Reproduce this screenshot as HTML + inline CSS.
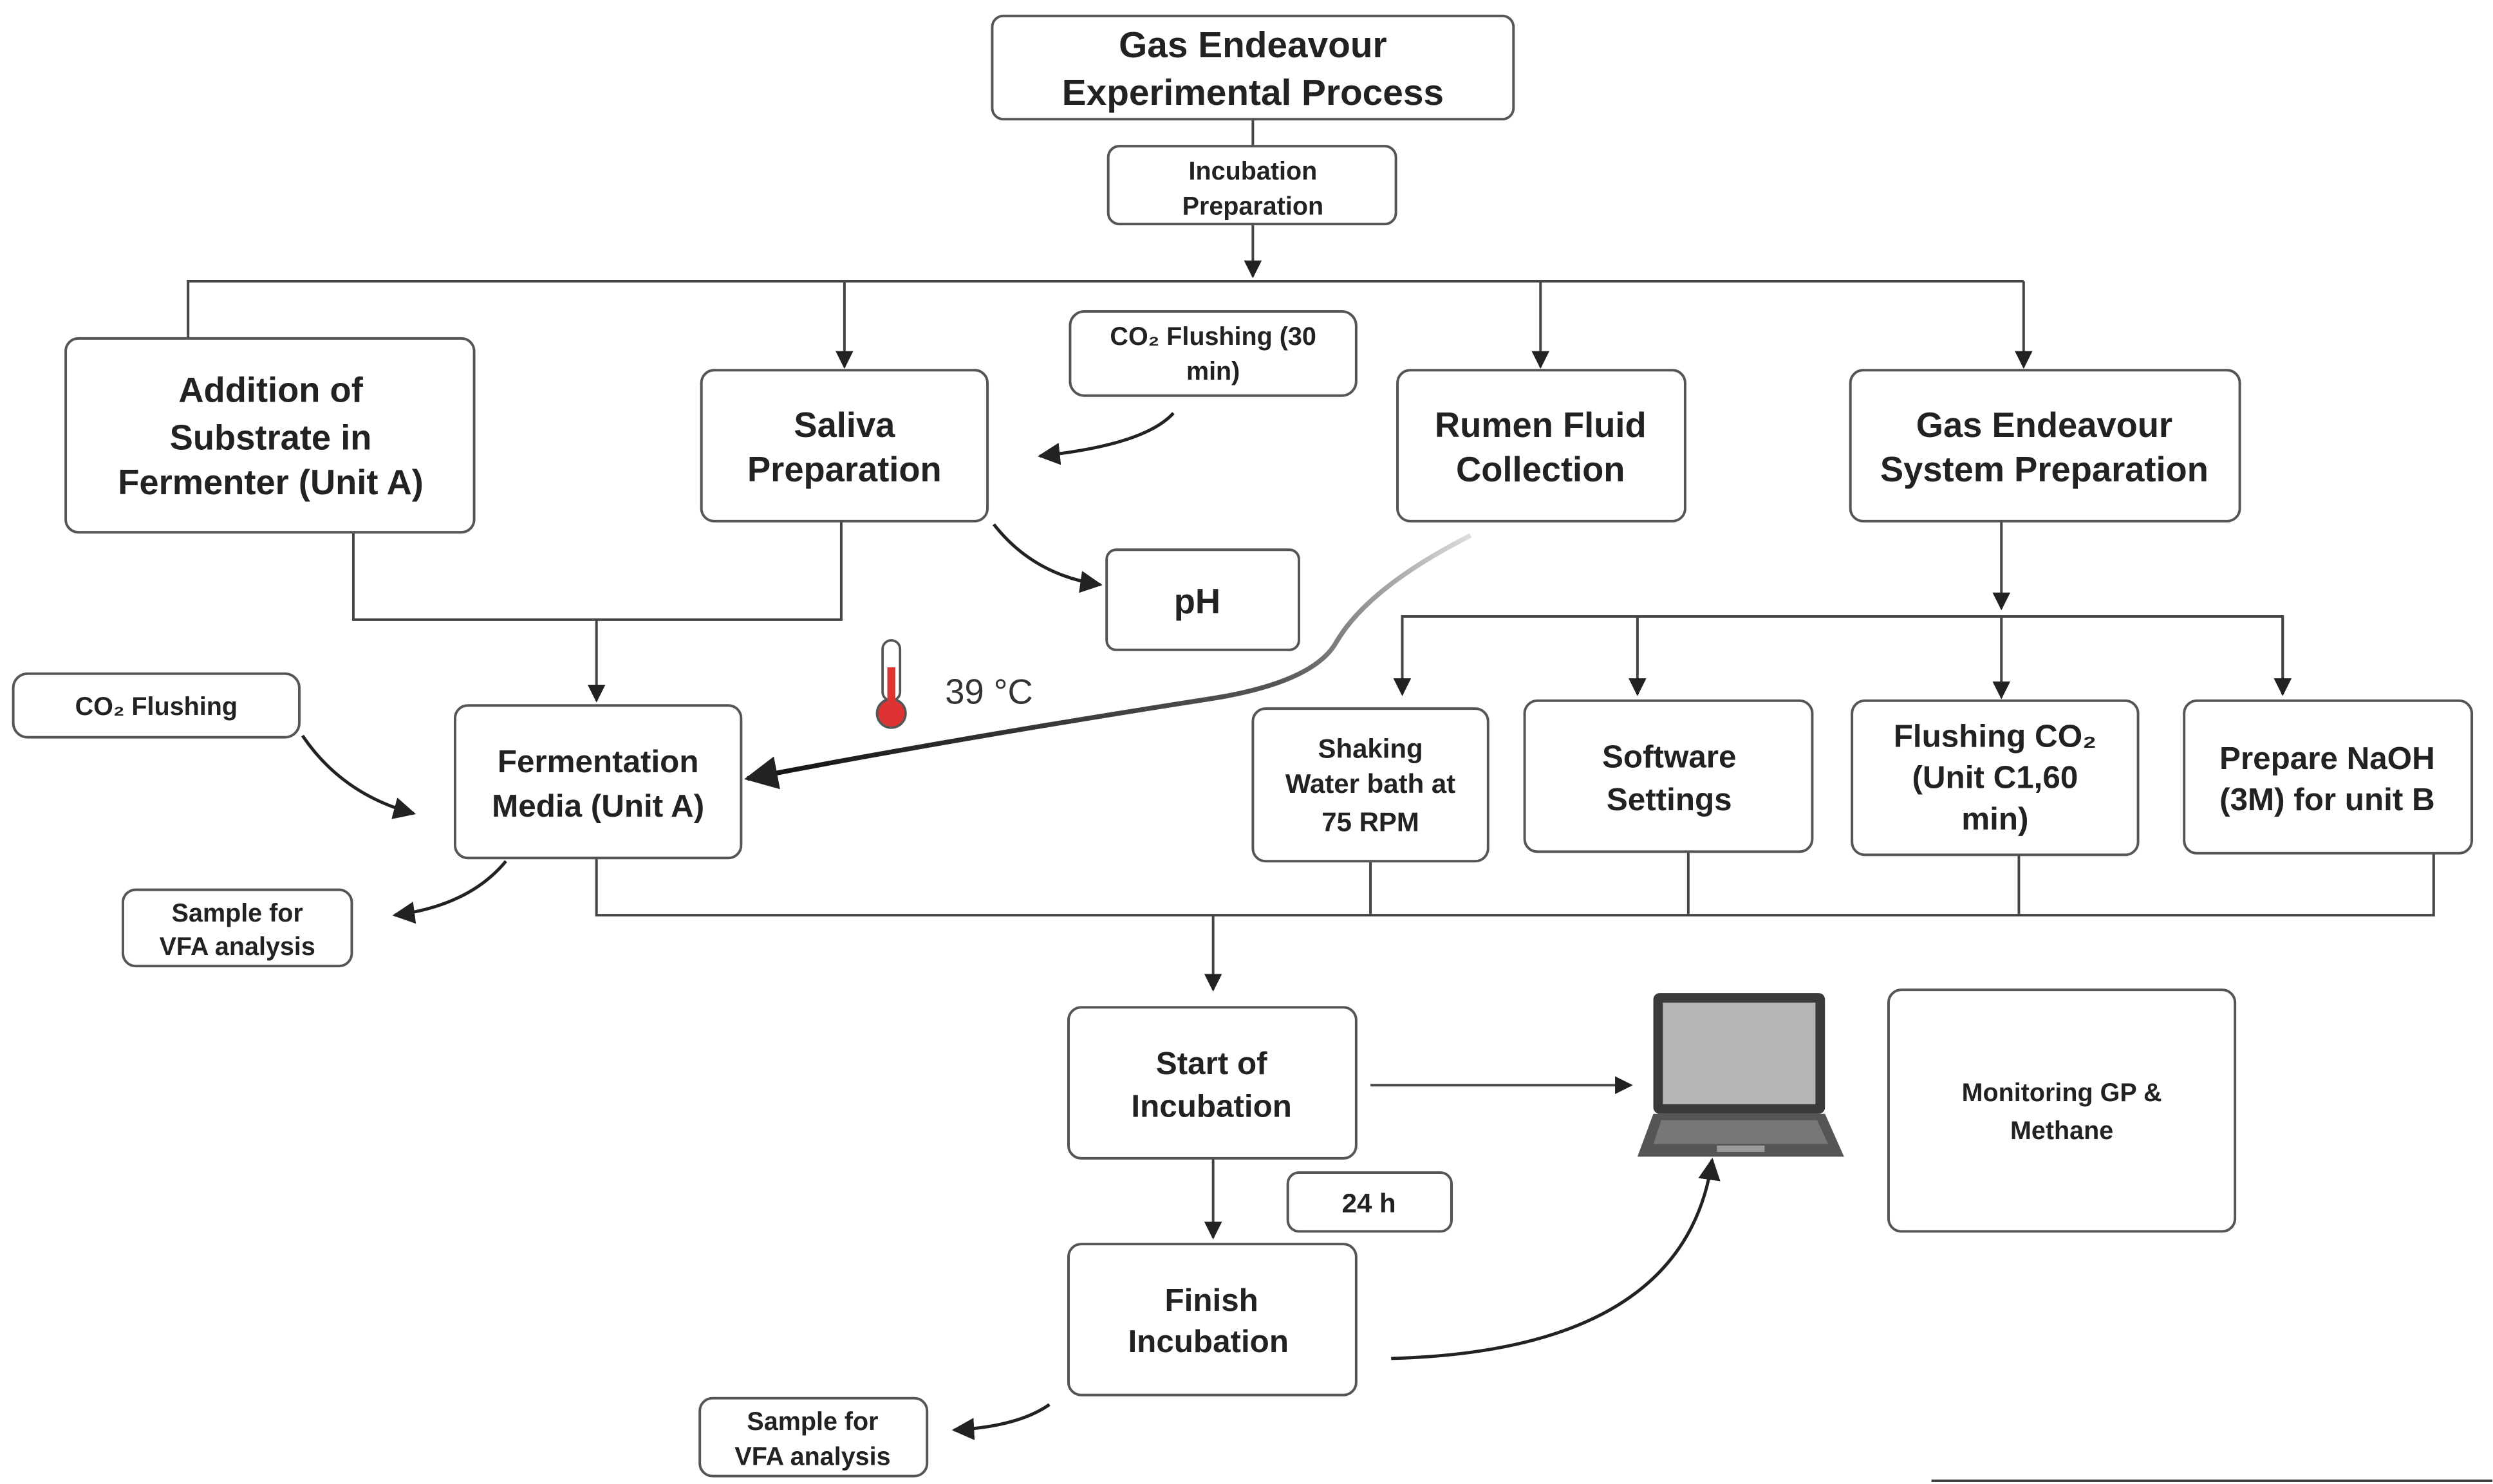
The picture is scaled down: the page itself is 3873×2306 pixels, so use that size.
<!DOCTYPE html>
<html><head><meta charset="utf-8"><style>
html,body{margin:0;padding:0;background:#fff;}
svg{display:block;}
text{font-family:"Liberation Sans",sans-serif;font-weight:bold;fill:#222;text-anchor:middle;}
.b{fill:#fff;stroke:#555;stroke-width:1.6;}
.l{fill:none;stroke:#444;stroke-width:1.6;}
.c{fill:none;stroke:#222;stroke-width:2;}
.s{font-weight:600;}
</style></head><body>
<svg width="3873" height="2306" viewBox="0 0 1568 934" xmlns="http://www.w3.org/2000/svg">
<defs>
<marker id="a" viewBox="0 0 10 10" refX="9" refY="5" markerWidth="7" markerHeight="7" orient="auto"><path d="M0,0L10,5L0,10z" fill="#222"/></marker>
<linearGradient id="g" x1="925" y1="337" x2="468" y2="490" gradientUnits="userSpaceOnUse"><stop offset="0" stop-color="#ddd"/><stop offset="0.3" stop-color="#555"/><stop offset="1" stop-color="#111"/></linearGradient>
</defs>
<path class="l" d="M788,75V92"/>
<path class="l" d="M788,141V174" marker-end="url(#a)"/>
<path class="l" d="M118,213V177H1273"/>
<path class="l" d="M531,177V231" marker-end="url(#a)"/>
<path class="l" d="M969,177V231" marker-end="url(#a)"/>
<path class="l" d="M1273,177V231" marker-end="url(#a)"/>
<path class="l" d="M222,335V390H529V328"/>
<path class="l" d="M375,390V441" marker-end="url(#a)"/>
<path class="l" d="M1259,328V383" marker-end="url(#a)"/>
<path class="l" d="M882,437V388H1436V437"/>
<path class="l" d="M882,388V437" marker-end="url(#a)"/>
<path class="l" d="M1030,388V437" marker-end="url(#a)"/>
<path class="l" d="M1259,388V439" marker-end="url(#a)"/>
<path class="l" d="M1436,388V437" marker-end="url(#a)"/>
<path class="l" d="M375,540V576H1531V537M862,542V576M1062,536V576M1270,538V576"/>
<path class="l" d="M763,576V623" marker-end="url(#a)"/>
<path class="l" d="M862,683H1026" marker-end="url(#a)"/>
<path class="l" d="M763,729V779" marker-end="url(#a)"/>
<path class="l" d="M1215,932H1568"/>
<path class="c" d="M738,260Q720,280 654,287" marker-end="url(#a)"/>
<path class="c" d="M625,330Q650,362 692,368" marker-end="url(#a)" stroke-width="1.5"/>
<path class="c" d="M190,463Q215,500 260,512" marker-end="url(#a)" stroke-width="1.5"/>
<path class="c" d="M318,542Q295,570 248,576" marker-end="url(#a)" stroke-width="1.5"/>
<path class="c" d="M660,884Q640,898 600,900" marker-end="url(#a)" stroke-width="1.5"/>
<path class="c" d="M875,855Q1060,850 1077,730" marker-end="url(#a)"/>
<path d="M925,337Q860,370 840,405Q825,430 760,440Q600,465 470,490" fill="none" stroke="url(#g)" stroke-width="3" marker-end="url(#a)"/>
<rect class="b" x="624" y="10" width="328" height="65" rx="7"/>
<text x="788" y="36" font-size="23">Gas Endeavour</text><text x="788" y="66" font-size="23">Experimental Process</text>
<rect class="b" x="697" y="92" width="181" height="49" rx="7"/>
<text class="s" x="788" y="113" font-size="16">Incubation</text><text class="s" x="788" y="135" font-size="16">Preparation</text>
<rect class="b" x="41" y="213" width="257" height="122" rx="8"/>
<text x="170" y="253" font-size="22">Addition of</text><text x="170" y="283" font-size="22">Substrate in</text><text x="170" y="311" font-size="22">Fermenter (Unit A)</text>
<rect class="b" x="441" y="233" width="180" height="95" rx="8"/>
<text x="531" y="275" font-size="22">Saliva</text><text x="531" y="303" font-size="22">Preparation</text>
<rect class="b" x="673" y="196" width="180" height="53" rx="9"/>
<text class="s" x="763" y="217" font-size="16">CO₂ Flushing (30</text><text class="s" x="763" y="239" font-size="16">min)</text>
<rect class="b" x="879" y="233" width="181" height="95" rx="8"/>
<text x="969" y="275" font-size="22">Rumen Fluid</text><text x="969" y="303" font-size="22">Collection</text>
<rect class="b" x="1164" y="233" width="245" height="95" rx="8"/>
<text x="1286" y="275" font-size="22">Gas Endeavour</text><text x="1286" y="303" font-size="22">System Preparation</text>
<rect class="b" x="696" y="346" width="121" height="63" rx="6"/>
<text x="753" y="386" font-size="22">pH</text>
<rect class="b" x="8" y="424" width="180" height="40" rx="9"/>
<text class="s" x="98" y="450" font-size="16">CO₂ Flushing</text>
<rect class="b" x="286" y="444" width="180" height="96" rx="8"/>
<text x="376" y="486" font-size="20">Fermentation</text><text x="376" y="514" font-size="20">Media (Unit A)</text>
<rect class="b" x="788" y="446" width="148" height="96" rx="8"/>
<text x="862" y="477" font-size="17">Shaking</text><text x="862" y="499" font-size="17">Water bath at</text><text x="862" y="523" font-size="17">75 RPM</text>
<rect class="b" x="959" y="441" width="181" height="95" rx="8"/>
<text x="1050" y="483" font-size="20">Software</text><text x="1050" y="510" font-size="20">Settings</text>
<rect class="b" x="1165" y="441" width="180" height="97" rx="8"/>
<text x="1255" y="470" font-size="20">Flushing CO₂</text><text x="1255" y="496" font-size="20">(Unit C1,60</text><text x="1255" y="522" font-size="20">min)</text>
<rect class="b" x="1374" y="441" width="181" height="96" rx="8"/>
<text x="1464" y="484" font-size="20">Prepare NaOH</text><text x="1464" y="510" font-size="20">(3M) for unit B</text>
<rect class="b" x="77" y="560" width="144" height="48" rx="8"/>
<text class="s" x="149" y="580" font-size="16">Sample for</text><text class="s" x="149" y="601" font-size="16">VFA analysis</text>
<rect class="b" x="672" y="634" width="181" height="95" rx="8"/>
<text x="762" y="676" font-size="20">Start of</text><text x="762" y="703" font-size="20">Incubation</text>
<rect class="b" x="1188" y="623" width="218" height="152" rx="8"/>
<text class="s" x="1297" y="693" font-size="16">Monitoring GP &amp;</text><text class="s" x="1297" y="717" font-size="16">Methane</text>
<rect class="b" x="810" y="738" width="103" height="37" rx="7"/>
<text class="s" x="861" y="763" font-size="17">24 h</text>
<rect class="b" x="672" y="783" width="181" height="95" rx="8"/>
<text x="762" y="825" font-size="20">Finish</text><text x="760" y="851" font-size="20">Incubation</text>
<rect class="b" x="440" y="880" width="143" height="49" rx="8"/>
<text class="s" x="511" y="900" font-size="16">Sample for</text><text class="s" x="511" y="922" font-size="16">VFA analysis</text>
<rect x="555" y="403" width="11" height="38" rx="5.5" fill="#fff" stroke="#555" stroke-width="1.5"/>
<circle cx="560.5" cy="449" r="9" fill="#d33" stroke="#555" stroke-width="1.5"/>
<rect x="558" y="420" width="5" height="25" fill="#d33"/>
<text x="622" y="443" font-size="22" style="font-weight:normal;fill:#333">39 °C</text>
<rect x="1040" y="625" width="108" height="76" rx="4" fill="#3a3a3a"/>
<rect x="1046" y="631" width="96" height="64" fill="#b5b5b5"/>
<path d="M1040,701H1148L1160,728H1030Z" fill="#555"/>
<path d="M1045,705H1143L1150,720H1040Z" fill="#777"/>
<rect x="1080" y="721" width="30" height="4" fill="#999"/>
</svg>
</body></html>
